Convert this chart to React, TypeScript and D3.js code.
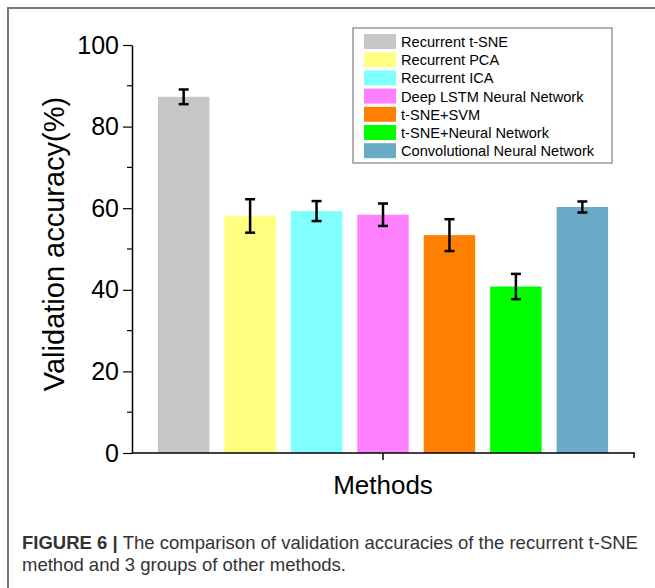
import React, { useEffect, useRef } from "react";
import * as d3 from "d3";

const methods = [
  "Recurrent t-SNE",
  "Recurrent PCA",
  "Recurrent ICA",
  "Deep LSTM Neural Network",
  "t-SNE+SVM",
  "t-SNE+Neural Network",
  "Convolutional Neural Network",
];
const accuracy = [87.3, 58.1, 59.3, 58.4, 53.4, 40.8, 60.3];
const errors = [1.8, 4.1, 2.45, 2.75, 3.9, 3.1, 1.35];
const colors = ["#c6c6c6", "#ffff80", "#80ffff", "#ff80ff", "#ff8000", "#00ff00", "#6aaac6"];
const yTicks = [0, 20, 40, 60, 80, 100];
const yMinorTicks = [10, 30, 50, 70, 90];

export default function App() {
  const ref = useRef<SVGSVGElement>(null);

  useEffect(() => {
    const svg = d3.select(ref.current);
    svg.selectAll("*").remove();

    const font = "Liberation Sans, Arial, sans-serif";
    const x0 = 132, x1 = 634, y0 = 453, y1 = 45;

    // frame
    svg.append("path").attr("d", "M8,590 V8 H660").attr("fill", "none").attr("stroke", "#777").attr("stroke-width", 2);

    const x = d3.scaleBand().domain(methods).range([x0, x1]).paddingInner(0.225).paddingOuter(0.39);
    const y = d3.scaleLinear().domain([0, 100]).range([y0, y1]);

    const g = svg.append("g");

    g.selectAll(".bar")
      .data(methods)
      .join("rect")
      .attr("class", "bar")
      .attr("x", (d) => x(d))
      .attr("width", x.bandwidth())
      .attr("y", (d, i) => y(accuracy[i]))
      .attr("height", (d, i) => y0 - y(accuracy[i]))
      .attr("fill", (d, i) => colors[i]);

    // error bars
    const eb = g.selectAll(".err").data(methods).join("g").attr("class", "err")
      .attr("transform", (d) => `translate(${x(d) + x.bandwidth() / 2},0)`);
    eb.append("line")
      .attr("y1", (d, i) => y(accuracy[i] + errors[i]))
      .attr("y2", (d, i) => y(accuracy[i] - errors[i]))
      .attr("stroke", "#000").attr("stroke-width", 2.5);
    [1, -1].forEach((s) => {
      eb.append("line")
        .attr("x1", -5).attr("x2", 5)
        .attr("y1", (d, i) => y(accuracy[i] + s * errors[i]))
        .attr("y2", (d, i) => y(accuracy[i] + s * errors[i]))
        .attr("stroke", "#000").attr("stroke-width", 2.5);
    });

    // y axis
    const yAxis = g.append("g").attr("transform", `translate(${x0},0)`);
    yAxis.call(d3.axisLeft(y).tickValues(yTicks).tickSize(9).tickSizeOuter(0).tickPadding(4));
    yAxis.select(".domain").attr("stroke-width", 1.5);
    yAxis.selectAll(".tick line").attr("stroke-width", 1.2);
    yAxis.selectAll("text").attr("font-family", font).attr("font-size", 25).attr("fill", "#000");
    yAxis.selectAll(".minor").data(yMinorTicks).join("line").attr("class", "minor")
      .attr("x1", 0).attr("x2", -5).attr("y1", (d) => y(d)).attr("y2", (d) => y(d)).attr("stroke", "#000").attr("stroke-width", 1.2);

    // x axis
    const xAxis = g.append("g").attr("transform", `translate(0,${y0})`);
    xAxis.append("line").attr("x1", x0).attr("x2", x1 + 1).attr("stroke", "#000").attr("stroke-width", 1.5);
    xAxis.append("line").attr("x1", (x0 + x1) / 2).attr("x2", (x0 + x1) / 2).attr("y1", 0).attr("y2", 7).attr("stroke", "#000").attr("stroke-width", 1.5);
    xAxis.append("line").attr("x1", x1).attr("x2", x1).attr("y1", 0).attr("y2", 5).attr("stroke", "#000").attr("stroke-width", 1.5);

    // axis titles
    svg.append("text").attr("transform", "translate(64,244) rotate(-90)").attr("text-anchor", "middle")
      .attr("font-family", font).attr("font-size", 29).text("Validation accuracy(%)");
    svg.append("text").attr("x", (x0 + x1) / 2).attr("y", 494).attr("text-anchor", "middle")
      .attr("font-family", font).attr("font-size", 26).text("Methods");

    // legend
    const lg = svg.append("g").attr("transform", "translate(353,28)");
    lg.append("rect").attr("width", 259).attr("height", 135).attr("fill", "#fff").attr("stroke", "#666").attr("stroke-width", 1);
    const items = lg.selectAll(".li").data(methods).join("g").attr("class", "li")
      .attr("transform", (d, i) => `translate(11,${6 + i * 18.2})`);
    items.append("rect").attr("width", 32).attr("height", 15).attr("fill", (d, i) => colors[i]);
    items.append("text").attr("x", 37).attr("y", 13).attr("font-family", font).attr("font-size", 14.6).text((d) => d);

    // caption
    const cap = svg.append("text").attr("x", 22).attr("y", 549).attr("font-family", font).attr("font-size", 18.5).attr("fill", "#333");
    cap.append("tspan").attr("font-weight", "bold").text("FIGURE 6 | ");
    cap.append("tspan").text("The comparison of validation accuracies of the recurrent t-SNE");
    svg.append("text").attr("x", 22).attr("y", 571).attr("font-family", font).attr("font-size", 18.5).attr("fill", "#333")
      .text("method and 3 groups of other methods.");
  }, []);

  return <svg ref={ref} width={655} height={588} style={{ position: "absolute", left: 0, top: 0, background: "#fff" }} />;
}
